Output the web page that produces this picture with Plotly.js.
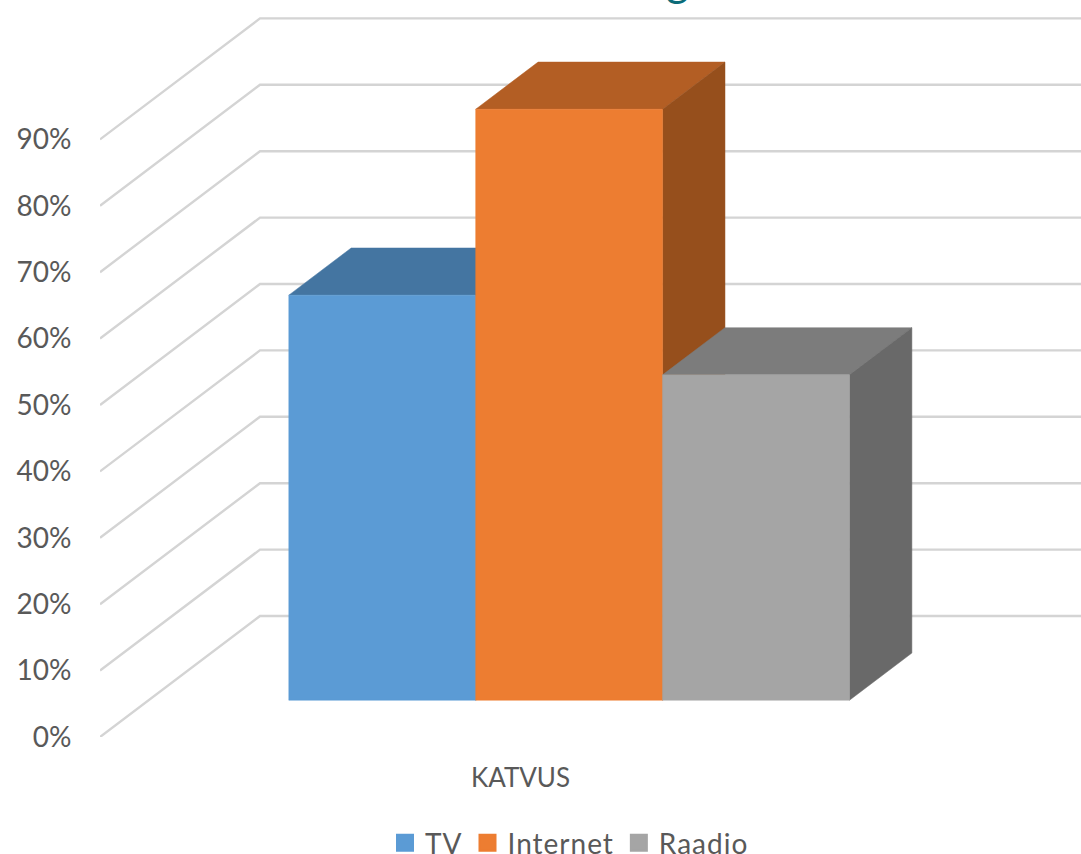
<!DOCTYPE html>
<html>
<head>
<meta charset="utf-8">
<script src="https://cdn.plot.ly/plotly-3.0.1.min.js"></script>
<style>html,body{margin:0;padding:0;background:#fff}#chart{width:1081px;height:854px}
.legendtext{letter-spacing:1px}</style>
</head>
<body>
<div id="chart"></div>
<script>
var seriesNames = ['TV', 'Internet', 'Raadio'];
var seriesValues = [61, 89, 49];
var categoryLabels = ['KATVUS'];
var gridValues = [0, 10, 20, 30, 40, 50, 60, 70, 80, 90];
var frontColors = ['#5b9bd5', '#ed7d31', '#a5a5a5'];
var topColors = ['#4475a1', '#b35e24', '#7c7c7c'];
var sideColors = ['#376a96', '#964f1c', '#696969'];

// oblique projection of the chart's box onto the 2D axes
var DEPTH_X = 160 / 841, DEPTH_Y = 121 / 6.64;
var X_MAX = 981 / 841, Y_MAX = 737 / 6.64;
function px(x, d) { return x + DEPTH_X * d; }
function py(v, d) { return v + DEPTH_Y * d; }
var GAP = 1.5, BAR_W = 1 / (seriesNames.length + GAP);
var X0 = GAP * BAR_W / 2, D0 = 0.304, D1 = 0.694;

var traces = [];
function poly(pts, fill, edge, w) {
  traces.push({
    type: 'scatter', mode: 'lines', x: pts.map(function (p) { return px(p[0], p[1]); }),
    y: pts.map(function (p) { return py(p[2], p[1]); }),
    fill: 'toself', fillcolor: fill, line: {color: edge, width: w},
    hoverinfo: 'skip', showlegend: false
  });
}
gridValues.forEach(function (v) {
  traces.push({
    type: 'scatter', mode: 'lines', x: [px(0, 0), px(0, 1), px(1, 1)], y: [py(v, 0), py(v, 1), py(v, 1)],
    line: {color: '#d4d4d4', width: 2.4}, hoverinfo: 'skip', showlegend: false
  });
});
seriesValues.forEach(function (v, i) {
  var a = X0 + i * BAR_W, b = a + BAR_W;
  poly([[a, D0, v], [b, D0, v], [b, D1, v], [a, D1, v], [a, D0, v]], topColors[i], topColors[i], 0.5);
  poly([[b, D0, 0], [b, D1, 0], [b, D1, v], [b, D0, v], [b, D0, 0]], sideColors[i], sideColors[i], 0.5);
  poly([[a, D0, 0], [b, D0, 0], [b, D0, v], [a, D0, v], [a, D0, 0]], frontColors[i], frontColors[i], 0.5);
});
seriesNames.forEach(function (n, i) {
  traces.push({
    type: 'scatter', mode: 'markers', name: n, x: [null], y: [null],
    marker: {symbol: 'square', size: 16, color: frontColors[i], line: {color: frontColors[i], width: 2}},
    hoverinfo: 'skip'
  });
});

var layout = {
  width: 1081, height: 854,
  margin: {l: 100, r: 0, t: 0, b: 117, pad: 0, autoexpand: false},
  paper_bgcolor: '#fff', plot_bgcolor: '#fff',
  font: {family: 'Lato, sans-serif', color: '#595959'},
  xaxis: {
    range: [0, X_MAX], tickmode: 'array', tickvals: [0.5], ticktext: categoryLabels,
    ticks: 'outside', ticklen: 18, tickcolor: 'rgba(0,0,0,0)', showgrid: false, zeroline: false, showline: false,
    tickfont: {size: 26, color: '#595959'}
  },
  yaxis: {
    range: [0, Y_MAX], tickmode: 'array', tickvals: gridValues,
    ticktext: gridValues.map(function (v) { return v + '%'; }),
    ticks: 'outside', ticklen: 22, tickcolor: 'rgba(0,0,0,0)', showgrid: false, zeroline: false, showline: false,
    tickfont: {size: 28, color: '#595959'}
  },
  showlegend: true,
  legend: {
    orientation: 'h', x: (385 - 100) / 981, xanchor: 'left', y: (737 - 818) / 737, yanchor: 'top',
    font: {size: 28, color: '#595959'}, bgcolor: 'rgba(0,0,0,0)', itemsizing: 'trace'
  },
  annotations: [{
    text: 'g', xref: 'paper', yref: 'paper', x: (677 - 100) / 981, y: 1, xanchor: 'center', yanchor: 'bottom',
    yshift: -7, showarrow: false, font: {size: 44, color: '#0b6b78', family: 'Lato, sans-serif'}
  }]
};
Plotly.newPlot('chart', traces, layout, {displayModeBar: false, staticPlot: true});
</script>
</body>
</html>
